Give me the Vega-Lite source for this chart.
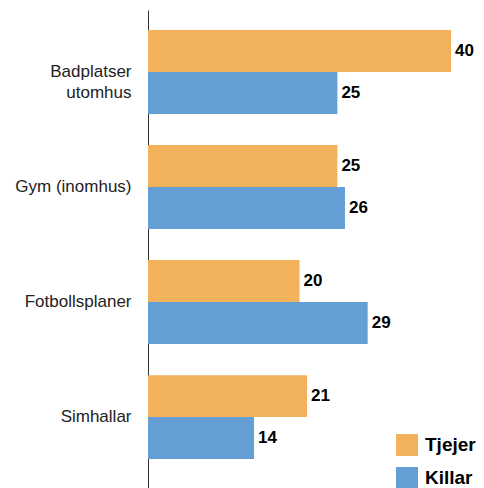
{
  "$schema": "https://vega.github.io/schema/vega-lite/v6.json",
  "width": 303,
  "height": 478,
  "autosize": {"type": "none"},
  "padding": {"left": 148, "top": 10, "right": 33, "bottom": 0},
  "background": "white",
  "config": {"view": {"stroke": null}},
  "data": {
    "values": [
      {"kategori": "Badplatser utomhus", "kon": "Tjejer", "varde": 40},
      {"kategori": "Badplatser utomhus", "kon": "Killar", "varde": 25},
      {"kategori": "Gym (inomhus)", "kon": "Tjejer", "varde": 25},
      {"kategori": "Gym (inomhus)", "kon": "Killar", "varde": 26},
      {"kategori": "Fotbollsplaner", "kon": "Tjejer", "varde": 20},
      {"kategori": "Fotbollsplaner", "kon": "Killar", "varde": 29},
      {"kategori": "Simhallar", "kon": "Tjejer", "varde": 21},
      {"kategori": "Simhallar", "kon": "Killar", "varde": 14}
    ]
  },
  "encoding": {
    "y": {
      "field": "kategori",
      "type": "nominal",
      "sort": ["Badplatser utomhus", "Gym (inomhus)", "Fotbollsplaner", "Simhallar"],
      "scale": {"paddingInner": 0.27, "paddingOuter": 0.213, "align": 0.41},
      "axis": {
        "title": null,
        "ticks": false,
        "labelPadding": 17,
        "labelFont": "Liberation Sans",
        "labelFontSize": 17,
        "labelColor": "#222222",
        "labelLineHeight": 21,
        "labelExpr": "datum.value == 'Badplatser utomhus' ? ['Badplatser', 'utomhus'] : datum.value",
        "domainColor": "#333333",
        "domainWidth": 1
      }
    },
    "yOffset": {
      "field": "kon",
      "type": "nominal",
      "sort": ["Tjejer", "Killar"],
      "scale": {"paddingInner": 0, "paddingOuter": 0}
    },
    "x": {
      "field": "varde",
      "type": "quantitative",
      "scale": {"domain": [0, 40], "nice": false},
      "axis": null
    }
  },
  "layer": [
    {
      "mark": {"type": "bar"},
      "encoding": {
        "color": {
          "field": "kon",
          "type": "nominal",
          "sort": ["Tjejer", "Killar"],
          "scale": {"domain": ["Tjejer", "Killar"], "range": ["#F2B25C", "#659ED4"]},
          "legend": {
            "title": null,
            "orient": "none",
            "legendX": 248,
            "legendY": 424,
            "padding": 0,
            "symbolType": "square",
            "symbolSize": 484,
            "symbolStrokeWidth": 0,
            "symbolOpacity": 1,
            "labelFont": "Liberation Sans",
            "labelFontSize": 19,
            "labelFontWeight": "bold",
            "labelColor": "#000000",
            "labelOffset": 7,
            "rowPadding": 11
          }
        }
      }
    },
    {
      "mark": {
        "type": "text",
        "align": "left",
        "baseline": "middle",
        "dx": 4,
        "font": "Liberation Sans",
        "fontSize": 17,
        "fontWeight": "bold",
        "color": "#000000"
      },
      "encoding": {
        "text": {"field": "varde", "type": "quantitative"}
      }
    }
  ]
}
